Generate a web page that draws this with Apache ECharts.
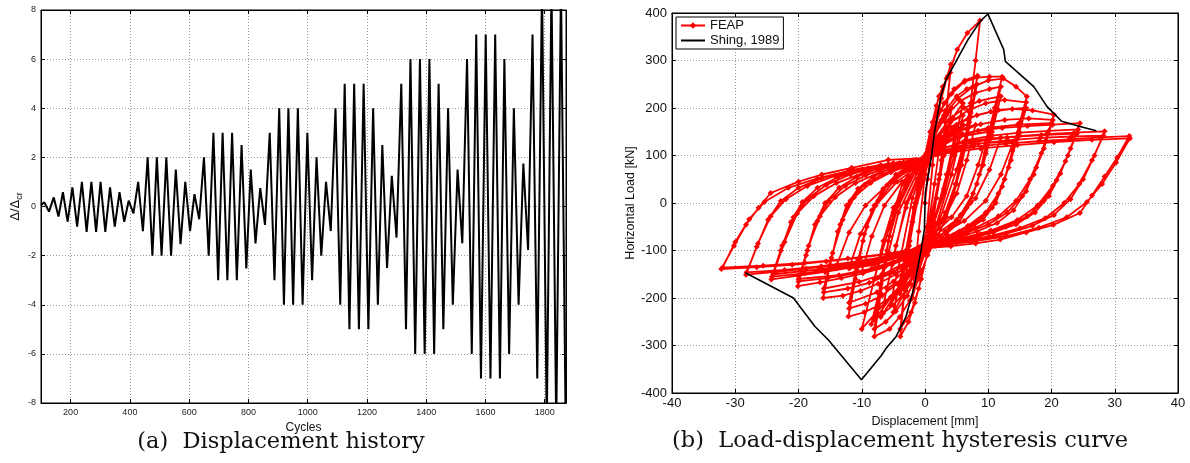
<!DOCTYPE html>
<html><head><meta charset="utf-8">
<script src="https://cdn.jsdelivr.net/npm/echarts@6/dist/echarts.min.js"></script>
<style>html,body{margin:0;padding:0;background:#fff}#c{width:1190px;height:463px}</style>
</head><body><div id="c"></div>
<script>
// ---------- (a) Displacement history ----------
const dispStart = [100, 0.05];
const upCycles = [111,143,174,206,238,270,301,333,365,396,428,460,491,523,555,587,618,650,682,713,745,777,808,840,872,904,935,967,999,1030,1062,1094,1125,1157,1189,1221,1252,1284,1316,1347,1379,1411,1442,1474,1506,1538,1569,1601,1633,1664,1696,1728,1759,1791,1823,1855];
const upValues = [0.17,0.37,0.58,0.78,1,1,1,0.78,0.58,0.24,
  1,2,2,2,1.5,1,0.5,
  2,3,3,3,2.5,1.5,0.75,
  3,4,4,4,3,2,1,
  4,5,5,5,4,2.5,1.25,
  5,6,6,6,5,4,1.5,
  6,7,7,7,6,4,1.75,
  7,9,9,9];
const downCycles = [127,159,190,222,254,286,317,349,381,412,444,476,507,539,571,603,634,666,698,729,761,793,824,856,888,920,951,983,1015,1046,1078,1110,1141,1173,1205,1237,1268,1300,1332,1363,1395,1427,1458,1490,1522,1554,1585,1617,1649,1680,1712,1744,1775,1807,1839,1871];
const downValues = [-0.21,-0.41,-0.62,-0.82,-1.03,-1.03,-1.03,-0.82,-0.62,-0.28,
  -1,-2,-2,-2,-1.53,-1,-0.52,
  -2,-3,-3,-3,-2.52,-1.5,-0.75,
  -3,-4,-4,-4,-3,-2,-1,
  -4,-5,-5,-5,-4,-2.5,-1.27,
  -5,-6,-6,-6,-5,-4,-1.5,
  -6,-7,-7,-7,-6,-4,-1.77,
  -7,-9,-9,-9];

// ---------- (b) Load-displacement hysteresis ----------
const shingDisp = [-28.4,-20.8,-17.4,-15.3,-10.05,-6.9,-6.1,-4.55,-3.0,-1.7,-0.6,-0.1,0.05,0.4,0.94,1.5,2.5,3.3,4.6,6.8,8.7,9.94,12.45,12.7,17.2,19.3,21.6,24.5,27.1];
const shingLoad = [-147,-200,-260,-288,-372,-321,-305,-281,-239,-176,-98,-56,21,49,91,148,224,259,291,344,382,398,323,298,245,203,172,161,152];

const feapL1 = [[0,0],[0.4,50],[1.0,110],[1.8,170],[2.6,220],[3.4,262],[4.1,292],[3.4,190],[2.6,90],[1.8,10],[1.0,-60],[0.3,-110],[-0.6,-160],[-1.6,-210],[-2.6,-250],[-3.9,-281],[-3.2,-180],[-2.4,-80],[-1.6,0],[-0.8,60],[0,100],
 [0.8,150],[1.8,205],[2.8,245],[4.0,275],[3.2,170],[2.3,60],[1.4,-30],[0.5,-100],[-1.0,-180],[-2.2,-230],[-3.9,-265],[-3.0,-150],[-2.0,-40],[-1.0,40],[0,95],
 [1.0,150],[2.0,200],[1.2,80],[0.3,-50],[-0.8,-140],[-2.0,-200],[-1.0,-60],[0,60]];
const feapL2 = [[0.5,110],[1.2,170],[2.2,225],[3.6,267],[5.1,323],[6.7,358],[8.7,384],[8.0,300],[7.2,210],[6.2,120],[5.0,40],[3.4,-30],[1.6,-80],[0.4,-110],[-1.0,-160],[-2.4,-205],[-4.0,-240],[-5.6,-265],[-8.0,-281],[-7.0,-190],[-6.0,-100],[-5.0,-20],[-3.6,40],[-2.0,75],[-0.6,92],[0.2,105],
 [1.5,160],[3.0,210],[4.6,240],[6.3,258],[8.3,268],[7.2,190],[6.0,110],[4.8,40],[3.2,-20],[1.6,-65],[0.3,-95],[-1.2,-150],[-2.8,-195],[-4.6,-228],[-6.2,-250],[-8.0,-265],[-7.0,-170],[-5.8,-80],[-4.6,-10],[-3.0,45],[-1.4,75],[0.1,95],
 [1.6,150],[3.2,195],[5.0,225],[6.6,240],[8.2,250],[7.0,160],[5.8,80],[4.4,15],[2.8,-35],[1.2,-75],[0.2,-95],[-1.4,-145],[-3.0,-185],[-5.0,-215],[-6.6,-232],[-8.0,-245],[-6.8,-150],[-5.6,-70],[-4.2,-5],[-2.6,45],[-1.0,75],[0.1,90],
 [1.2,130],[2.6,175],[4.2,200],[3.0,100],[1.8,10],[0.6,-60],[-1.2,-130],[-2.6,-170],[-4.0,-190],[-3.0,-100],[-1.8,-10],[-0.6,50],[0.2,85]];
const feapL3 = [[1.0,140],[2.5,195],[4.2,230],[6.2,255],[8.2,264],[10.2,266],[12.2,266],[11.0,200],[9.8,130],[8.6,60],[7.2,0],[5.4,-40],[3.4,-65],[1.4,-85],[0.2,-100],[-1.6,-140],[-3.4,-172],[-5.4,-198],[-7.4,-216],[-9.6,-230],[-12.1,-239],[-11.0,-160],[-9.8,-80],[-8.4,-15],[-6.6,30],[-4.6,60],[-2.4,80],[-0.4,92],
 [1.4,140],[3.4,185],[5.6,215],[8.0,232],[10.2,240],[12.0,245],[10.8,175],[9.6,105],[8.2,40],[6.6,-10],[4.6,-45],[2.4,-70],[0.4,-90],[-2.0,-135],[-4.4,-170],[-6.8,-195],[-9.4,-212],[-12.0,-222],[-10.8,-140],[-9.6,-65],[-8.0,-5],[-6.0,38],[-3.6,65],[-1.2,85],[0.2,92],
 [1.6,135],[3.8,175],[6.2,200],[8.6,215],[12.0,225],[10.6,150],[9.2,80],[7.6,20],[5.6,-25],[3.2,-60],[0.8,-85],[-2.4,-130],[-5.0,-165],[-7.6,-188],[-12.0,-210],[-10.6,-120],[-9.2,-50],[-7.4,5],[-5.0,45],[-2.4,72],[0.2,90],
 [2.0,140],[4.0,170],[6.0,185],[4.6,100],[3.0,20],[1.2,-50],[-1.5,-120],[-3.6,-160],[-6.0,-180],[-4.6,-90],[-3.0,-10],[-1.2,50],[0.2,85]];
const feapL4 = [[1.2,130],[3.0,185],[5.2,220],[7.6,245],[10.0,258],[12.4,262],[14.4,245],[16.1,224],[15.0,170],[13.8,110],[12.6,50],[11.2,0],[9.2,-35],[6.8,-55],[4.2,-72],[1.6,-88],[0.2,-100],[-2.0,-125],[-4.6,-150],[-7.4,-170],[-10.2,-185],[-13.0,-195],[-16.1,-200],[-15.0,-130],[-13.8,-60],[-12.4,-5],[-10.6,30],[-8.2,55],[-5.6,72],[-2.8,85],[-0.4,92],
 [1.6,130],[4.0,170],[6.8,195],[9.6,210],[12.6,217],[16.0,212],[14.8,150],[13.6,90],[12.2,35],[10.6,-10],[8.2,-40],[5.4,-60],[2.6,-78],[0.3,-92],[-2.6,-125],[-5.6,-150],[-8.8,-168],[-12.2,-180],[-16.0,-188],[-14.8,-115],[-13.4,-45],[-11.8,5],[-9.6,38],[-6.8,60],[-3.6,78],[-0.6,90],
 [2.0,130],[5.0,165],[8.2,185],[11.6,196],[16.0,200],[14.6,135],[13.2,75],[11.6,20],[9.6,-20],[6.8,-48],[3.6,-70],[0.5,-88],[-3.0,-125],[-6.6,-150],[-10.4,-166],[-16.0,-180],[-14.6,-105],[-13.0,-35],[-11.2,12],[-8.6,42],[-5.4,65],[-2.0,82],[0.2,90],
 [2.0,125],[4.6,150],[8.0,165],[6.6,90],[5.0,20],[3.0,-35],[0.8,-75],[-2.4,-120],[-5.0,-145],[-8.0,-160],[-6.6,-80],[-5.0,-10],[-2.8,45],[0,85]];
const feapL5 = [[1.4,120],[4.0,160],[7.0,180],[10.4,192],[13.8,198],[17.0,195],[20.4,186],[19.0,130],[17.6,75],[16.0,25],[14.0,-15],[11.4,-42],[8.2,-60],[4.8,-75],[1.6,-88],[0.2,-98],[-3.0,-118],[-6.4,-135],[-9.8,-148],[-13.2,-158],[-16.6,-167],[-20.1,-175],[-18.8,-110],[-17.4,-45],[-15.8,0],[-13.6,32],[-10.8,55],[-7.6,72],[-4.0,84],[-0.6,92],
 [2.0,120],[5.2,150],[8.8,166],[12.6,175],[16.4,178],[20.2,175],[18.8,115],[17.2,60],[15.4,15],[13.0,-20],[10.0,-45],[6.6,-63],[3.0,-80],[0.3,-92],[-3.4,-118],[-7.2,-135],[-11.2,-148],[-15.4,-158],[-20.0,-165],[-18.6,-100],[-17.0,-38],[-15.2,5],[-12.6,36],[-9.4,58],[-5.8,75],[-2.0,86],[0.2,91],
 [2.4,118],[6.0,145],[10.0,158],[14.6,165],[20.0,168],[18.4,105],[16.6,50],[14.4,5],[11.6,-28],[8.0,-52],[4.0,-72],[0.6,-88],[-4.0,-118],[-8.4,-138],[-13.6,-152],[-20.0,-160],[-18.4,-90],[-16.6,-28],[-14.2,12],[-11.0,42],[-7.0,65],[-3.0,82],[0.2,90],
 [2.4,120],[5.6,140],[10.0,150],[8.4,80],[6.6,15],[4.2,-30],[1.0,-70],[-3.0,-115],[-6.4,-135],[-10.0,-145],[-8.4,-70],[-6.4,-5],[-3.6,45],[-0.2,85]];
const feapL6 = [[1.6,115],[4.8,140],[8.4,152],[12.2,158],[16.2,162],[20.2,165],[24.5,168],[23.0,115],[21.4,62],[19.6,15],[17.4,-20],[14.4,-45],[10.8,-62],[6.8,-76],[2.8,-88],[0.3,-96],[-3.6,-112],[-7.6,-125],[-11.8,-136],[-15.8,-145],[-20.0,-153],[-24.3,-161],[-22.8,-100],[-21.2,-40],[-19.4,2],[-17.0,32],[-13.8,54],[-10.0,70],[-5.8,82],[-1.4,91],
 [2.4,112],[6.4,132],[10.6,142],[15.0,148],[19.6,152],[24.2,155],[22.6,100],[20.8,48],[18.8,5],[16.2,-28],[12.8,-50],[8.8,-66],[4.4,-80],[0.5,-92],[-4.2,-112],[-9.0,-126],[-14.0,-138],[-19.0,-148],[-24.2,-155],[-22.6,-90],[-20.8,-30],[-18.6,8],[-15.6,38],[-11.8,60],[-7.4,76],[-2.6,87],[0.2,90],
 [2.8,110],[7.6,128],[13.0,138],[18.4,143],[24.0,146],[22.2,88],[20.2,36],[17.8,-5],[14.6,-36],[10.4,-58],[5.6,-75],[0.8,-90],[-5.0,-113],[-10.6,-128],[-16.8,-140],[-24.0,-150],[-22.2,-82],[-20.2,-22],[-17.6,14],[-14.0,42],[-9.4,65],[-4.4,82],[0.2,90],
 [2.6,115],[7.0,130],[12.0,138],[10.2,70],[8.0,10],[5.0,-35],[1.2,-72],[-3.6,-112],[-8.0,-130],[-12.0,-138],[-10.2,-65],[-7.8,-5],[-4.4,45],[-0.4,85]];
const feapL7 = [[2.0,110],[6.0,128],[10.4,136],[14.8,141],[19.2,145],[23.6,148],[28.4,151],[26.8,100],[25.0,50],[23.0,8],[20.4,-25],[17.0,-48],[12.8,-65],[8.2,-78],[3.6,-88],[0.4,-95],[-4.4,-110],[-9.2,-122],[-14.0,-131],[-18.8,-138],[-23.6,-145],[-28.3,-151],[-26.6,-92],[-24.8,-35],[-22.8,4],[-20.0,32],[-16.4,52],[-12.0,68],[-7.0,80],[-1.8,90],
 [2.8,108],[7.8,124],[13.0,132],[18.2,137],[23.2,140],[28.2,142],[26.4,90],[24.4,40],[22.0,0],[19.0,-32],[15.0,-53],[10.2,-70],[5.0,-83],[0.6,-92],[-5.0,-110],[-10.6,-123],[-16.4,-133],[-22.2,-141],[-28.2,-146],[-26.4,-85],[-24.4,-28],[-22.0,8],[-18.6,36],[-14.2,57],[-9.0,73],[-3.4,86],[0.2,90],
 [3.0,110],[8.4,125],[14.0,130],[12.0,60],[9.6,5],[6.2,-38],[1.6,-74],[-4.0,-110],[-9.0,-126],[-14.0,-133],[-12.0,-62],[-9.4,-5],[-5.4,45],[-0.6,84]];
const feapL8 = [[2.4,105],[7.6,118],[12.8,125],[18.0,130],[22.8,134],[27.6,138],[32.3,141],[30.4,96],[28.4,56],[26.4,16],[24.5,-21],[20.3,-46],[16.0,-62],[11.9,-77],[8.0,-85],[4.1,-91],[0.5,-95],[-4.8,-106],[-10.2,-115],[-15.6,-123],[-21.0,-130],[-26.6,-135],[-32.2,-139],[-30.2,-90],[-28.3,-46],[-26.3,-10],[-24.4,21],[-20.0,45],[-16.3,60],[-11.6,74],[-5.8,91],[0.2,95],
 [3.0,104],[8.8,115],[14.6,122],[20.4,128],[26.4,133],[32.4,136],[30.2,85],[28.0,40],[25.6,2],[22.4,-30],[18.0,-52],[12.8,-70],[7.2,-82],[1.6,-90],[-5.6,-106],[-12.2,-117],[-19.0,-126],[-25.6,-132],[-32.0,-136],[-30.0,-82],[-27.8,-34],[-25.4,2],[-21.6,32],[-17.0,52],[-11.4,70],[-5.0,84],[0.2,90]];
// small late cycles that crowd the centre of the plot
const feapSmall = [[1.0,110],[2.5,140],[1.5,40],[0.5,-50],[-1.5,-130],[-4.0,-190],[-2.5,-90],[-1.0,20],[0,80],
 [1.5,120],[3.5,150],[2.2,50],[0.8,-40],[-2.0,-140],[-5.5,-215],[-3.8,-110],[-2.0,10],[0,85],
 [2.0,125],[5.0,160],[3.4,60],[1.4,-40],[-2.6,-150],[-7.0,-240],[-5.2,-130],[-3.0,0],[0,88],
 [2.5,125],[6.0,165],[4.2,60],[1.8,-45],[-3.2,-160],[-8.5,-255],[-6.6,-150],[-4.2,-20],[-1.0,70],
 [3.0,130],[7.0,170],[5.0,70],[2.2,-40],[-4.0,-175],[-10.0,-265],[-8.0,-160],[-5.4,-40],[-1.4,70],
 [2.0,120],[4.4,180],[6.0,210],[4.6,120],[3.0,30],[1.0,-60],[-2.4,-170],[-5.0,-230],[-3.6,-140],[-2.0,-40],[0,60]];

// ---------- build ----------
const dispData = [dispStart];
for (let i = 0; i < upCycles.length; i++) {
  dispData.push([upCycles[i], upValues[i]]);
  dispData.push([downCycles[i], downValues[i]]);
}
const shingData = shingDisp.map((d, i) => [d, shingLoad[i]]);
const feapData = [].concat(feapL1, feapSmall, feapL2, feapL3, feapL4, feapL5, feapL6, feapL7, feapL8);

const SANS = '"Liberation Sans", Arial, Helvetica, sans-serif';
const SERIF = '"DejaVu Serif", "Liberation Serif", serif';
const grid = { color: '#9a9a9a', type: [1, 2], width: 1 };
const plain = v => String(v).replace('\u2212', '-');

function mainAxis(o) {
  return Object.assign({
    type: 'value',
    axisLine: { show: true, onZero: false, lineStyle: { color: '#000', width: 1 } },
    axisTick: { show: true, inside: true, length: 4, lineStyle: { color: '#000' } },
    splitLine: { show: true, lineStyle: grid },
    nameLocation: 'middle'
  }, o);
}
function mirrorAxis(o) {
  return Object.assign({
    type: 'value',
    axisLine: { show: true, onZero: false, lineStyle: { color: '#000', width: 1 } },
    axisTick: { show: true, inside: true, length: 4, lineStyle: { color: '#000' } },
    axisLabel: { show: false },
    splitLine: { show: false }
  }, o);
}

const option = {
  animation: false,
  backgroundColor: '#fff',
  grid: [
    { left: 41, top: 10, width: 525, height: 393, show: true, borderColor: '#000', borderWidth: 1 },
    { left: 672, top: 13, width: 506, height: 380, show: true, borderColor: '#000', borderWidth: 1 }
  ],
  xAxis: [
    mainAxis({ gridIndex: 0, position: 'bottom', min: 100, max: 1872, splitNumber: 9,
      axisLabel: { fontSize: 9, color: '#222', margin: 5, fontFamily: SANS, showMinLabel: false, showMaxLabel: false, formatter: plain },
      name: 'Cycles', nameGap: 11, nameTextStyle: { fontSize: 12, color: '#111', fontFamily: SANS } }),
    mirrorAxis({ gridIndex: 0, position: 'top', min: 100, max: 1872, splitNumber: 9 }),
    mainAxis({ gridIndex: 1, position: 'bottom', min: -40, max: 40, interval: 10,
      axisLabel: { fontSize: 13, color: '#111', margin: 4, fontFamily: SANS, formatter: plain },
      name: 'Displacement [mm]', nameGap: 16, nameTextStyle: { fontSize: 12.5, color: '#111', fontFamily: SANS } }),
    mirrorAxis({ gridIndex: 1, position: 'top', min: -40, max: 40, interval: 10 })
  ],
  yAxis: [
    mainAxis({ gridIndex: 0, position: 'left', min: -8, max: 8, interval: 2,
      axisLabel: { fontSize: 9, color: '#222', margin: 5, fontFamily: SANS, formatter: plain },
      name: '{a|Δ/Δ}{b|cr}', nameGap: 16,
      nameTextStyle: { color: '#111', fontFamily: SANS, rich: {
        a: { fontSize: 13, lineHeight: 18, verticalAlign: 'middle', fontFamily: SANS, color: '#111' },
        b: { fontSize: 9, lineHeight: 18, verticalAlign: 'bottom', fontFamily: SANS, color: '#111' } } } }),
    mirrorAxis({ gridIndex: 0, position: 'right', min: -8, max: 8, interval: 2 }),
    mainAxis({ gridIndex: 1, position: 'left', min: -400, max: 400, interval: 100,
      axisLabel: { fontSize: 13, color: '#111', margin: 5, fontFamily: SANS, formatter: plain },
      name: 'Horizontal Load [kN]', nameGap: 33, nameTextStyle: { fontSize: 12.5, color: '#111', fontFamily: SANS } }),
    mirrorAxis({ gridIndex: 1, position: 'right', min: -400, max: 400, interval: 100 })
  ],
  legend: {
    data: [{ name: 'FEAP' }, { name: 'Shing, 1989', itemStyle: { opacity: 0 } }],
    orient: 'vertical', left: 676, top: 17,
    borderColor: '#000', borderWidth: 1, backgroundColor: '#fff', borderRadius: 0,
    padding: [2, 4, 2, 4], itemGap: 2, itemWidth: 24, itemHeight: 8,
    textStyle: { fontSize: 13, color: '#111', fontFamily: SANS }
  },
  series: [
    { name: 'disp', type: 'line', xAxisIndex: 0, yAxisIndex: 0, data: dispData,
      symbol: 'none', lineStyle: { color: '#000', width: 2 }, itemStyle: { color: '#000' }, clip: true },
    { name: 'FEAP', type: 'line', xAxisIndex: 2, yAxisIndex: 2, data: feapData,
      symbol: 'diamond', symbolSize: 6, showSymbol: true,
      lineStyle: { color: '#ff0000', width: 1.8 }, itemStyle: { color: '#ff0000' }, z: 2 },
    { name: 'Shing, 1989', type: 'line', xAxisIndex: 2, yAxisIndex: 2, data: shingData,
      symbol: 'none', lineStyle: { color: '#000', width: 1.6 }, itemStyle: { color: '#000' }, z: 3 }
  ],
  graphic: [
    { type: 'text', x: 281, y: 442, style: { text: '(a)  Displacement history', font: '22.5px ' + SERIF, fill: '#111', align: 'center', verticalAlign: 'middle' } },
    { type: 'text', x: 900, y: 441, style: { text: '(b)  Load-displacement hysteresis curve', font: '22.5px ' + SERIF, fill: '#111', align: 'center', verticalAlign: 'middle' } }
  ]
};
const chart = echarts.init(document.getElementById('c'), null, { renderer: 'canvas' });
chart.setOption(option);
</script></body></html>
